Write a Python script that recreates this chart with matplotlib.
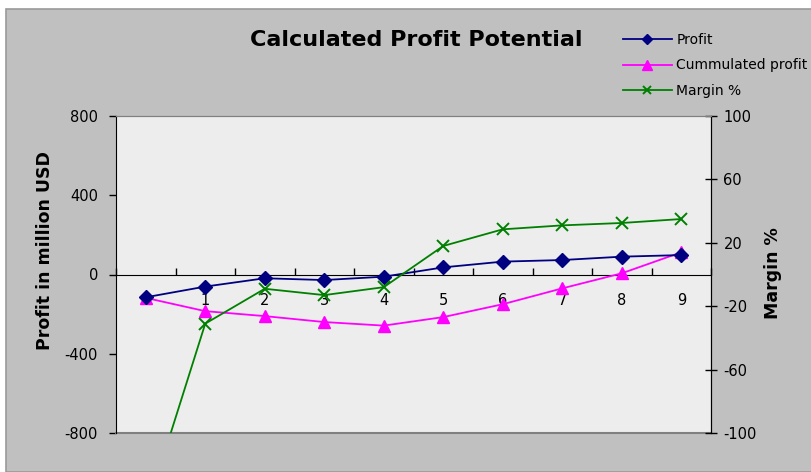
import matplotlib.pyplot as plt
from matplotlib.patches import Rectangle
from matplotlib.lines import Line2D

plt.rcParams['font.family'] = ['DejaVu Sans']
plt.rcParams['axes.unicode_minus'] = False

# yearly figures, year 0 .. 9
years = [0, 1, 2, 3, 4, 5, 6, 7, 8, 9]
profit = [-115, -61, -19, -28, -11, 36, 65, 73, 90, 98]
cum_profit = [-118, -185, -210, -240, -258, -215, -150, -70, 6, 112]
margin = [-150, -31, -9, -13, -8, 18, 28.5, 31, 32.5, 35]

W, H = 811, 472
fig = plt.figure(figsize=(W / 100, H / 100), dpi=100, facecolor='white')

# grey chart area with thin border
fig.patches.append(Rectangle((6 / W, 0), 1, 1 - 9 / H, transform=fig.transFigure,
                             facecolor='#C0C0C0', edgecolor='#9A9A9A', lw=1.2, zorder=-10))

ax = fig.add_axes([116 / W, (H - 433) / H, 595 / W, 317 / H])
ax.set_facecolor('#EDEDED')
ax2 = ax.twinx()

ax.plot(years, profit, color='#000080', lw=1.3, marker='D', ms=7,
        markerfacecolor='#000080', markeredgecolor='#000080', zorder=4, label='Profit')
ax.plot(years, cum_profit, color='#FF00FF', lw=1.3, marker='^', ms=9,
        markerfacecolor='#FF00FF', markeredgecolor='#FF00FF', zorder=3, label='Cummulated profit')
ax2.plot(years, margin, color='#008000', lw=1.3, marker='x', ms=9, mew=1.4,
         zorder=3, label='Margin %')

ax.set_xlim(-0.5, 9.5)
ax.set_ylim(-800, 800)
ax2.set_ylim(-100, 100)
ax.set_yticks([-800, -400, 0, 400, 800])
ax2.set_yticks([-100, -60, -20, 20, 60, 100])

# category axis crosses at zero, tick marks between categories
ax.spines['bottom'].set_position(('data', 0))
ax.spines['bottom'].set_color('black')
ax.set_xticks(years)
ax.set_xticks([x - 0.5 for x in years] + [9.5], minor=True)
ax.tick_params(axis='x', which='major', length=0, pad=13, labelsize=10.5)
ax.tick_params(axis='x', which='minor', direction='in', length=5, width=1)

ax.tick_params(axis='y', direction='out', length=5, width=1, pad=8, labelsize=10.5)
ax2.tick_params(axis='y', direction='inout', length=8, width=1, pad=5, labelsize=10.5)

for a in (ax, ax2):
    a.spines['top'].set_color('#808080')
for s in ('bottom', 'left'):
    ax2.spines[s].set_visible(False)
ax2.spines['right'].set_color('black')
ax.spines['left'].set_color('black')
# bottom border of the plot area
ax.plot([0, 1], [0, 0], transform=ax.transAxes, color='#808080', lw=1.5, clip_on=False)

fig.text(416 / W, 1 - 40 / H, 'Calculated Profit Potential', ha='center', va='center',
         fontsize=16, fontweight='bold')
fig.text(45 / W, 1 - 251 / H, 'Profit in million USD', ha='center', va='center',
         rotation=90, fontsize=12.5, fontweight='bold')
fig.text(773 / W, 1 - 273 / H, 'Margin %', ha='center', va='center',
         rotation=90, fontsize=12.5, fontweight='bold')

handles = [
    Line2D([], [], color='#000080', lw=1.3, marker='D', ms=5),
    Line2D([], [], color='#FF00FF', lw=1.3, marker='^', ms=7),
    Line2D([], [], color='#008000', lw=1.3, marker='x', ms=6, mew=1.4),
]
labels = ['Profit', 'Cummulated profit', 'Margin %']
fig.legend(handles, labels, loc='upper left', bbox_to_anchor=(623 / W, 1 - 33 / H),
           frameon=False, fontsize=10, handlelength=3.5, handletextpad=0.35,
           labelspacing=0.82, borderpad=0, borderaxespad=0)

fig.savefig('out.png', dpi=100)
